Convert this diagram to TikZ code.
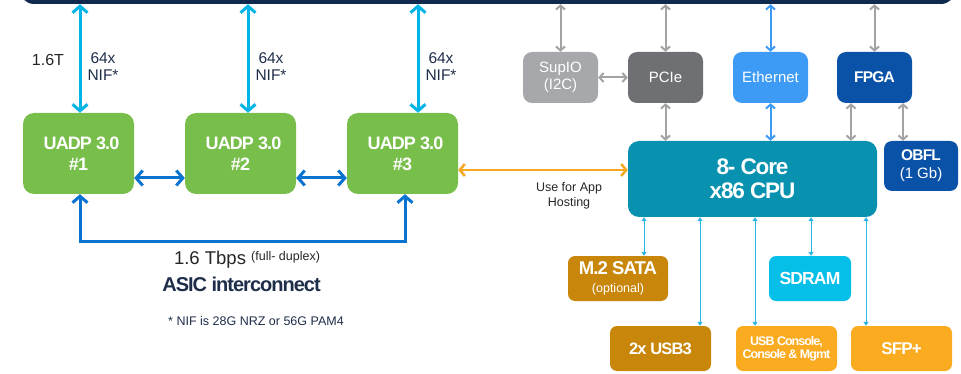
\documentclass[tikz,border=0pt]{standalone}
\usepackage{fontspec}
\setmainfont{Liberation Sans}
\newfontfamily\cnd{Liberation Sans}[LetterSpace=-5]
\newfontfamily\cndx{Liberation Sans}[LetterSpace=-8]
\usetikzlibrary{arrows.meta}
\definecolor{navy}{HTML}{10294F}
\definecolor{txt}{HTML}{1E2D4A}
\definecolor{cyanA}{HTML}{00B4E6}
\definecolor{greenA}{HTML}{78BE4A}
\definecolor{blueA}{HTML}{0A72CF}
\definecolor{orangeA}{HTML}{F7A823}
\definecolor{tealA}{HTML}{0892B0}
\definecolor{greyL}{HTML}{A6A8AB}
\definecolor{greyD}{HTML}{6F7074}
\definecolor{ethA}{HTML}{3D9BF5}
\definecolor{deepA}{HTML}{0A52A8}
\definecolor{arrG}{HTML}{A3A3A3}
\definecolor{brownA}{HTML}{C8860A}
\definecolor{sdA}{HTML}{05BFE9}
\definecolor{ambA}{HTML}{FBAB1F}
\definecolor{thinA}{HTML}{2AB4E4}
\tikzset{
  fs/.style 2 args={font=\fontsize{#1}{#2}\selectfont},
  bt/.style 2 args={font=\cnd\bfseries\fontsize{#1}{#2}\selectfont},
  box/.style={rounded corners=9pt, inner sep=0pt, text=white, align=center},
  thick arr/.style={line width=3pt, {Straight Barb[length=6.5pt,width=15pt]}-{Straight Barb[length=6.5pt,width=15pt]}},
  grey arr/.style={line width=2pt, draw=arrG, {Straight Barb[length=4pt,width=9pt]}-{Straight Barb[length=4pt,width=9pt]}},
  thin arr/.style={line width=1pt, draw=thinA, {Triangle[length=4pt,width=5pt]}-{Triangle[length=4pt,width=5pt]}},
  lbl/.style={text=txt, align=center, inner sep=0pt},
}
\begin{document}
\begin{tikzpicture}[x=1pt,y=-1pt]
\useasboundingbox (0,0) rectangle (961,374);
\begin{scope}
\clip (0,0) rectangle (961,374);
\node[fill=navy, rounded corners=14pt, minimum width=935pt, minimum height=44pt, inner sep=0pt] (bar) at (487.5,-18) {};
\end{scope}
% UADP boxes
\foreach \n/\x/\k in {u1/78.5/1, u2/240.5/2, u3/402.5/3}{
  \node[box, fill=greenA, minimum width=111pt, minimum height=81pt, rounded corners=11pt, bt={18}{21}] (\n) at (\x,153.5)
    {\hspace*{6pt}UADP 3.0\\\#\k};
}
% CPU and peripherals
\node[box, fill=tealA, minimum width=249pt, minimum height=76pt, rounded corners=11pt, bt={22.5}{24}] (cpu) at (752.5,179)
  {8- Core\\x86 CPU};
\node[box, fill=greyL, minimum width=75pt, minimum height=51pt, fs={15}{17}] (supio) at (560.5,77.5) {SupIO\\(I2C)};
\node[box, fill=greyD, minimum width=75pt, minimum height=51pt, fs={15}{17}] (pcie) at (665.5,77.5) {PCIe};
\node[box, fill=ethA, minimum width=75pt, minimum height=51pt, fs={15}{17}] (eth) at (770.5,77.5) {Ethernet};
\node[box, fill=deepA, minimum width=75pt, minimum height=51pt, bt={15.5}{17}] (fpga) at (874.5,77.5) {FPGA};
\node[box, fill=deepA, minimum width=74pt, minimum height=50pt, rounded corners=8pt, bt={15.5}{18}] (obfl) at (921,166)
  {OBFL\\\normalfont\fontsize{15}{18}\selectfont(1 Gb)};
\node[box, fill=brownA, minimum width=100pt, minimum height=45pt, rounded corners=7pt, bt={18.5}{18}] (m2) at (618,278.5)
  {M.2 SATA\\\normalfont\fontsize{12.5}{18}\selectfont(optional)};
\node[box, fill=sdA, minimum width=82pt, minimum height=45pt, rounded corners=7pt, bt={17.5}{19}] (sdram) at (810,278.5)
  {SDRAM};
\node[box, fill=brownA, minimum width=101pt, minimum height=45pt, rounded corners=7pt, bt={16.5}{18}] (usb3) at (660.5,348.5)
  {2x USB3};
\node[box, fill=ambA, minimum width=101pt, minimum height=45pt, rounded corners=7pt, font=\cndx\bfseries\fontsize{12.5}{13}\selectfont] (cons) at (786.5,348.5)
  {USB Console,\\Console \& Mgmt};
\node[box, fill=ambA, minimum width=101pt, minimum height=45pt, rounded corners=7pt, bt={17}{18}] (sfp) at (901.5,348.5)
  {SFP+};
% labels
\node[lbl, fs={16}{18}, text=black!85] (t16) at (48,60) {1.6T};
\node[lbl, fs={15.5}{17}] (n1) at (103,67) {64x\\NIF*};
\node[lbl, fs={15.5}{17}] (n2) at (271,67) {64x\\NIF*};
\node[lbl, fs={15.5}{17}] (n3) at (441,67) {64x\\NIF*};
\node[lbl, fs={18.5}{20}, text=black!85, anchor=base] (tb) at (247,265)
  {1.6 Tbps \raisebox{5pt}{\fontsize{12.5}{14}\selectfont(full- duplex)}};
\node[lbl, text=txt, bt={20}{22}] (asic) at (241.5,284) {ASIC interconnect};
\node[lbl, fs={12.5}{14}] (note) at (256,321) {* NIF is 28G NRZ or 56G PAM4};
\node[lbl, fs={12.5}{15}, text=black!85, align=center] (app) at (569,196) {Use for App\\Hosting};
% cyan arrows from bar
\coordinate (c1) at ([xshift=1.5pt]u1.north);
\coordinate (c2) at ([xshift=7.5pt]u2.north);
\coordinate (c3) at ([xshift=15.5pt]u3.north);
\foreach \c in {c1,c2,c3}{ \draw[thick arr, draw=cyanA] (\c |- bar.south) -- (\c); }
% blue interconnects
\coordinate (h1) at ([yshift=-24.5pt]u1.east);
\coordinate (h2) at ([yshift=-24.5pt]u2.east);
\draw[thick arr, draw=blueA] (h1) -- (h1 -| u2.west);
\draw[thick arr, draw=blueA] (h2) -- (h2 -| u3.west);
\coordinate (l1) at ([xshift=1.5pt]u1.south);
\coordinate (l2) at ([xshift=2.5pt]u3.south);
\draw[thick arr, draw=blueA] (l1) -- ++(0,47) -| (l2);
% orange
\coordinate (o1) at ([yshift=-16.5pt]u3.east);
\draw[line width=2.5pt, draw=orangeA, {Straight Barb[length=5pt,width=12pt]}-{Straight Barb[length=5pt,width=12pt]}] (o1) -- (o1 -| cpu.west);
% grey from bar
\draw[grey arr] (supio.north |- bar.south) -- (supio.north);
\draw[grey arr] (pcie.north |- bar.south) -- (pcie.north);
\draw[grey arr, draw=ethA] (eth.north |- bar.south) -- (eth.north);
\draw[grey arr] (fpga.north |- bar.south) -- (fpga.north);
\draw[grey arr] (supio.east) -- (pcie.west);
\draw[grey arr] (pcie.south) -- (pcie.south |- cpu.north);
\draw[grey arr, draw=ethA] (eth.south) -- (eth.south |- cpu.north);
\coordinate (f1) at ([xshift=-23.5pt]fpga.south);
\coordinate (f2) at ([xshift=28.5pt]fpga.south);
\draw[grey arr] (f1) -- (f1 |- cpu.north);
\draw[grey arr] (f2) -- (f2 |- obfl.north);
% thin bottom arrows
\coordinate (b1) at ([xshift=26pt]m2.north);
\coordinate (b2) at ([xshift=39.5pt]usb3.north);
\coordinate (b3) at ([xshift=-31.5pt]cons.north);
\coordinate (b4) at ([xshift=1pt]sdram.north);
\coordinate (b5) at ([xshift=-35.5pt]sfp.north);
\foreach \b in {b1,b2,b3,b4,b5}{ \draw[thin arr] (\b |- cpu.south) -- (\b); }
\end{tikzpicture}
\end{document}
